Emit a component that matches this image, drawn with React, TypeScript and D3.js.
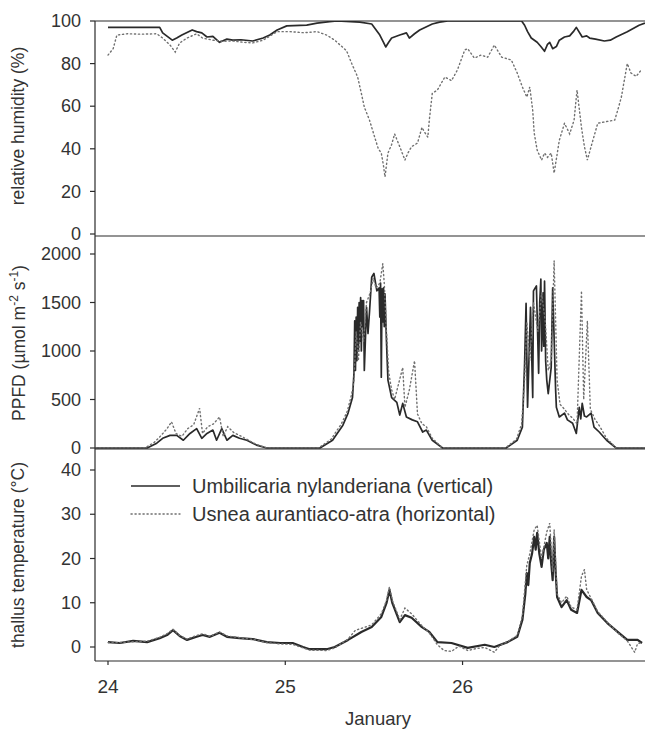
import React from "react";
import * as d3 from "d3";

// hours since 24 January 00:00
const dayTicks = [24, 25, 26];
const rhTicks = [0, 20, 40, 60, 80, 100];
const ppfdTicks = [0, 500, 1000, 1500, 2000];
const tempTicks = [0, 10, 20, 30, 40];

const rhUmbilicaria: [number, number][] = [
  [0, 97], [3, 97], [7, 97], [7.4, 94.4], [8.7, 91], [9.3, 92], [10, 93.4], [11.4, 95.8], [12, 95],
  [12.7, 94.4], [13.4, 92.5], [14.2, 92.8], [15.1, 90], [16.1, 91.5], [16.9, 91], [18, 91.2],
  [19.6, 90.6], [21, 92], [21.9, 93.4], [22.9, 95.8], [24.2, 97.7], [26.9, 98.1], [28.3, 99],
  [30, 99.7], [31, 100], [34.1, 99.5], [35.7, 98.6], [36.8, 93.4], [37.3, 90], [37.6, 87.8],
  [38, 90], [38.4, 92], [39.5, 93.4], [40.4, 94.4], [40.8, 92], [41.5, 94], [42.2, 95.8],
  [43.9, 98.6], [44.9, 99.5], [46, 100], [56, 100], [56.4, 98], [56.8, 95], [57.3, 92],
  [58.1, 90], [58.6, 88], [59.1, 85.8], [59.5, 89], [59.8, 90], [60.2, 87], [60.7, 88],
  [61.1, 91], [61.8, 92.5], [62.5, 93], [63, 95], [63.4, 97], [64.2, 92.5], [64.8, 93],
  [65.2, 92], [66, 91.5], [67.2, 90.6], [68, 91], [68.8, 92.5], [70.3, 95], [71.9, 98], [72.7, 99],
];

const rhUsnea: [number, number][] = [
  [0, 84], [0.7, 87], [1.2, 93.4], [2.6, 94], [4.5, 93.8], [6.6, 94], [7.4, 92], [8.4, 88.7],
  [9.1, 85.4], [9.7, 89.7], [10.7, 92], [12, 94], [12.8, 92], [14.2, 91], [15.5, 90.5],
  [16.9, 90.6], [18.3, 90], [19.6, 89.7], [21, 91], [22.9, 95], [24.6, 95], [26.5, 94.5],
  [28.3, 95], [29.6, 93.4], [30.7, 91], [32.3, 86], [33, 80], [33.8, 73.7], [34.3, 66],
  [34.7, 59.6], [35.4, 53.5], [36.1, 45.5], [36.6, 40], [37, 38], [37.3, 32], [37.5, 26.8],
  [37.9, 38], [38.4, 42], [38.8, 47], [39.5, 41], [40.2, 34.7], [40.6, 38], [41.1, 41],
  [41.9, 42.7], [42.5, 50], [43, 47], [43.3, 45.5], [43.5, 53.5], [43.9, 66], [44.6, 67.6],
  [45.6, 73.7], [46.5, 72], [47.3, 77], [48.3, 86.4], [48.7, 87], [49.6, 82.6], [50.5, 84],
  [51.4, 83], [52.3, 88.7], [53.3, 83], [54.6, 81.7], [55.4, 75.6], [56.1, 69], [56.7, 64.3],
  [57.1, 69], [57.5, 58], [57.7, 47.4], [58.1, 39.4], [58.7, 34.7], [59.1, 38], [59.5, 36],
  [60, 38], [60.4, 28.6], [61.1, 44], [61.8, 52], [62.5, 47], [63.1, 53.5], [63.5, 67.6],
  [64.1, 50], [64.5, 41], [64.9, 34.7], [65.4, 41], [66.3, 52], [67.2, 52.6], [68.6, 53.5],
  [69, 58], [69.5, 64.3], [70.3, 80], [70.8, 75.6], [71.5, 74], [72.2, 77],
];

const ppfdUmbilicaria: [number, number][] = [
  [-1.7, 0], [5.3, 0], [6.6, 50], [7.4, 100], [8.4, 130], [9.3, 130], [10.2, 80], [11.1, 150],
  [12, 200], [12.7, 100], [13.4, 150], [14.2, 185], [14.7, 80], [15.4, 200], [16.1, 80],
  [16.9, 130], [17.8, 100], [18.8, 80], [20.1, 30], [21.5, 0], [28.7, 0], [30.4, 80],
  [31.8, 235], [32.5, 360], [33.1, 520], [33.3, 770], [33.4, 1310], [33.5, 800], [33.6, 1350],
  [33.7, 900], [33.8, 1450], [33.9, 1000], [34.0, 1500], [34.1, 1100], [34.2, 1550],
  [34.3, 1000], [34.4, 1520], [34.5, 1250], [34.6, 1520], [34.7, 800], [35.0, 1450],
  [35.2, 1180], [35.4, 1400], [35.7, 1760], [36.0, 1800], [36.4, 1620], [36.7, 1650],
  [36.8, 1350], [36.9, 1700], [37.0, 730], [37.1, 1640], [37.2, 1300], [37.3, 1650],
  [37.4, 1250], [37.5, 1590], [37.7, 1100], [37.9, 700], [38.4, 520], [39.1, 470], [39.5, 340],
  [39.9, 460], [40.4, 320], [41.2, 290], [41.9, 270], [42.6, 165], [43.1, 185], [43.9, 80],
  [45.3, 0], [53.9, 0], [55.4, 80], [56.1, 215], [56.4, 870], [56.6, 1490], [56.8, 420],
  [57.2, 1450], [57.5, 520], [57.6, 1620], [58.0, 1670], [58.3, 770], [58.45, 1500],
  [58.6, 1740], [58.7, 1000], [58.8, 1210], [58.9, 1600], [59.0, 1050], [59.1, 1720],
  [59.25, 900], [59.4, 700], [59.6, 560], [60.0, 830], [60.2, 1650], [60.6, 600], [60.7, 420],
  [61.1, 320], [61.8, 360], [62.2, 290], [62.9, 255], [63.4, 150], [63.8, 420], [64.0, 300],
  [64.2, 460], [64.5, 330], [64.8, 320], [65.4, 360], [65.8, 215], [66.5, 165], [67.5, 80],
  [68.8, 0], [72.7, 0],
];

const ppfdUsnea: [number, number][] = [
  [-1.7, 0], [5.0, 0], [6.3, 60], [7.2, 130], [8.0, 200], [8.6, 270], [9.2, 150], [10.0, 120],
  [10.8, 200], [11.6, 240], [12.4, 410], [12.8, 150], [13.5, 220], [14.3, 250], [15.1, 320],
  [15.6, 120], [16.2, 220], [17.0, 160], [17.8, 130], [18.8, 90], [20.0, 40], [21.5, 0],
  [28.5, 0], [30.2, 90], [31.6, 250], [32.4, 380], [33.0, 560], [33.3, 700], [33.6, 1200],
  [33.9, 900], [34.2, 1300], [34.6, 1100], [35.0, 1500], [35.5, 1600], [35.9, 1750],
  [36.3, 1650], [36.8, 1700], [37.2, 1900], [37.4, 1700], [37.7, 1200], [38.0, 780],
  [38.4, 600], [38.8, 500], [39.3, 650], [39.9, 830], [40.2, 420], [40.8, 600], [41.5, 900],
  [41.9, 350], [42.5, 250], [43.1, 220], [43.9, 100], [45.3, 0], [53.8, 0], [55.3, 90],
  [56.0, 250], [56.4, 700], [56.7, 1300], [57.1, 900], [57.6, 1500], [58.2, 1200], [58.7, 1600],
  [59.2, 1300], [59.6, 800], [60.0, 900], [60.4, 1930], [60.8, 700], [61.2, 450], [61.8, 400],
  [62.3, 350], [63.0, 300], [63.5, 250], [64.1, 1620], [64.4, 500], [64.9, 1310], [65.3, 400],
  [65.9, 300], [66.6, 220], [67.5, 100], [68.8, 0], [72.7, 0],
];

const tempUmbilicaria: [number, number][] = [
  [0, 1.1], [1.6, 0.9], [3.4, 1.4], [5.3, 1.1], [7, 2], [8, 2.7], [8.8, 3.8], [9.7, 2.5],
  [10.7, 1.6], [12, 2.3], [12.8, 2.7], [13.8, 2.3], [15.1, 3.2], [16.1, 2.3], [17.8, 2],
  [19.6, 1.8], [21.5, 1.1], [23.3, 0.9], [25, 0.9], [26.4, 0], [27.3, -0.5], [29.6, -0.5],
  [30.7, 0], [32.5, 1.6], [34.3, 3.4], [35.7, 4.5], [37, 6.8], [37.7, 9.9], [38.1, 12.9],
  [38.5, 9.9], [39.5, 5.6], [40.2, 7.2], [41.1, 6.6], [42.5, 4.5], [43.5, 3.4], [44.6, 1.1],
  [46.5, 0.9], [48.7, -0.2], [51, 0.5], [52.3, 0], [54.1, 1.1], [55.4, 2.3], [56.1, 6.1],
  [56.5, 12], [56.7, 16.7], [56.9, 14], [57.1, 19], [57.4, 21], [57.7, 24.9], [57.9, 22],
  [58.1, 25.8], [58.4, 21], [58.7, 18.1], [59.0, 22], [59.4, 23.5], [59.6, 20], [59.8, 24.9],
  [60.0, 19], [60.2, 15.1], [60.4, 24.9], [60.6, 17], [60.8, 11.3], [61.4, 9], [62.1, 10.6],
  [62.7, 8.4], [63.5, 7.7], [64.1, 12.9], [64.8, 11.3], [65.4, 10.6], [66.3, 7.7], [67.6, 5.4],
  [69, 3.4], [70.3, 1.6], [71.7, 1.6], [72.3, 0.9],
];

const tempUsnea: [number, number][] = [
  [0, 1.0], [1.6, 1.0], [3.4, 1.2], [5.3, 1.3], [7, 2.2], [8, 3.0], [8.8, 4.0], [9.7, 2.6],
  [10.7, 1.8], [12, 2.6], [12.8, 3.0], [13.8, 2.4], [15.1, 3.4], [16.1, 2.5], [17.8, 2.1],
  [19.6, 1.7], [21.5, 1.0], [23.3, 0.7], [25, 0.6], [26.4, -0.2], [27.3, -0.7], [29.6, -0.8],
  [30.7, -0.2], [32.5, 1.8], [33.5, 3.8], [34.3, 4.2], [35.7, 5.0], [37, 7.5], [37.7, 10.5],
  [38.1, 13.6], [38.5, 10.5], [39.5, 6.2], [40.2, 8.8], [41.1, 7.5], [42.5, 4.8], [43.5, 3.2],
  [44.6, 0.5], [45.5, -0.8], [46.5, -1.0], [47.5, 0.2], [48.7, -0.8], [50, -0.3], [51, -0.1],
  [52.3, -1.2], [53, 0.3], [54.1, 1.2], [55.4, 2.6], [56.1, 7.0], [56.7, 18.5], [57.1, 21],
  [57.7, 26.5], [58.1, 27.5], [58.7, 20], [59.4, 26], [59.8, 28], [60.2, 17], [60.4, 26.5],
  [60.8, 12], [61.4, 10], [62.1, 11.5], [62.7, 9], [63.5, 8.5], [64.1, 16], [64.5, 17.5],
  [64.8, 13], [65.4, 11], [66.3, 8], [67.6, 5.6], [69, 3.2], [70.3, 1.4], [71.3, -1.2],
  [71.7, 0.8], [72.3, 1.0],
];

const W = 645;
const H = 733;
const left = 95;
const right = 645;
const ink = "#2a2a2a";
const dotInk = "#707070";
const font = "'Liberation Sans', Arial, sans-serif";

const x = d3.scaleLinear().domain([-1.76, 72.7]).range([left, right]);
const yRh = d3.scaleLinear().domain([0, 100]).range([234, 21]);
const yPpfd = d3.scaleLinear().domain([0, 2000]).range([448, 254]);
const yTemp = d3.scaleLinear().domain([0, 40]).range([647, 470]);

const panels = [
  { id: "rh", top: 21, bottom: 236, y: yRh, ticks: rhTicks, a: rhUmbilicaria, b: rhUsnea },
  { id: "ppfd", top: 236, bottom: 449, y: yPpfd, ticks: ppfdTicks, a: ppfdUmbilicaria, b: ppfdUsnea },
  { id: "temp", top: 449, bottom: 661, y: yTemp, ticks: tempTicks, a: tempUmbilicaria, b: tempUsnea },
];

const App = () => {
  return (
    <svg
      width={W}
      height={H}
      style={{ position: "absolute", left: 0, top: 0, background: "#fff" }}
      fontFamily={font}
    >
      <defs>
        {panels.map((p) => (
          <clipPath id={"clip-" + p.id} key={p.id}>
            <rect x={left} y={p.top} width={right - left} height={p.bottom - p.top} />
          </clipPath>
        ))}
      </defs>

      {panels.map((p) => {
        const line = d3
          .line<[number, number]>()
          .x((d) => x(d[0]))
          .y((d) => p.y(d[1]));
        return (
          <g key={p.id}>
            <g clipPath={`url(#clip-${p.id})`}>
              <path
                d={line(p.a) || ""}
                fill="none"
                stroke={ink}
                strokeWidth={p.id === "temp" ? 2.2 : 1.7}
                strokeLinejoin="round"
              />
              <path
                d={line(p.b) || ""}
                fill="none"
                stroke={dotInk}
                strokeWidth={1.4}
                strokeDasharray="1.2 2.8"
                strokeLinecap="round"
              />
            </g>
            <line x1={left} x2={right} y1={p.bottom} y2={p.bottom} stroke={ink} strokeWidth={1.2} />
            {p.ticks.map((t) => (
              <g key={t}>
                <line x1={left - 5} x2={left} y1={p.y(t)} y2={p.y(t)} stroke={ink} strokeWidth={1.2} />
                <text x={81} y={p.y(t)} dy="0.34em" textAnchor="end" fontSize={18} fill="#333">
                  {t}
                </text>
              </g>
            ))}
          </g>
        );
      })}

      {/* frame */}
      <line x1={left} x2={right} y1={21} y2={21} stroke={ink} strokeWidth={1.2} />
      <line x1={left} x2={left} y1={21} y2={661} stroke={ink} strokeWidth={1.2} />

      {/* x axis */}
      {dayTicks.map((d) => (
        <g key={d}>
          <line x1={x((d - 24) * 24)} x2={x((d - 24) * 24)} y1={661} y2={665} stroke={ink} strokeWidth={1.2} />
          <text x={x((d - 24) * 24)} y={693} textAnchor="middle" fontSize={19} fill="#333">
            {d}
          </text>
        </g>
      ))}
      <text x={378} y={725} textAnchor="middle" fontSize={18.5} fill="#333">
        January
      </text>

      {/* y axis titles */}
      <text transform="translate(24,126) rotate(-90)" textAnchor="middle" fontSize={17.5} fill="#333">
        relative humidity (%)
      </text>
      <text transform="translate(25,343) rotate(-90)" textAnchor="middle" fontSize={17.5} fill="#333">
        PPFD (µmol m<tspan dy={-7} fontSize={12}>-2</tspan>
        <tspan dy={7}> s</tspan>
        <tspan dy={-7} fontSize={12}>-1</tspan>
        <tspan dy={7}>)</tspan>
      </text>
      <text transform="translate(24,555) rotate(-90)" textAnchor="middle" fontSize={17.5} fill="#333">
        thallus temperature (°C)
      </text>

      {/* legend */}
      <line x1={131} x2={180} y1={486} y2={486} stroke={ink} strokeWidth={1.3} />
      <line x1={131} x2={180} y1={514} y2={514} stroke={dotInk} strokeWidth={1.4} strokeDasharray="1.2 2.8" strokeLinecap="round" />
      <text x={192} y={493} fontSize={20} fill="#333">
        Umbilicaria nylanderiana (vertical)
      </text>
      <text x={192} y={521} fontSize={20} fill="#333">
        Usnea aurantiaco-atra (horizontal)
      </text>
    </svg>
  );
};

export default App;
